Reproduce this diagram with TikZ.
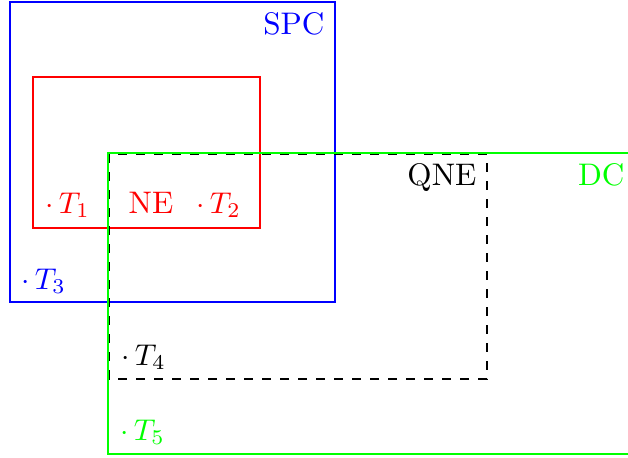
\documentclass[tikz,border=0pt]{standalone}
\usetikzlibrary{positioning}
\begin{document}
\begin{tikzpicture}[x=0.3333pt,y=-0.3333pt,
  every node/.style={font=\fontsize{10.4}{12.5}\selectfont},
  setbox/.style={line width=0.5pt},
  elem/.style={inner sep=0pt,anchor=base west},
  setname/.style={anchor=north east}]
% canvas, in pixels of the sketch
\clip (0,0) rectangle (628,457);
% the sets
\draw[setbox,blue] (10,2) rectangle (335,302);
\draw[setbox,red] (33,77) rectangle (260,228);
\draw[setbox,dashed] (109,154) rectangle (487,379);
\draw[setbox,green] (108,153) rectangle (635,454);
% set names
\node[setname,blue] (spc) at (335,2) {SPC};
\node[setname] (qne) at (487,153) {QNE};
\node[setname,green] (dc) at (635,153) {DC};
\node[elem,red] (ne) at (128,213) {NE};
% elements
\foreach \i/\px/\py/\col in {1/45/213/red, 2/196/213/red, 3/21/289/blue, 4/121/365/black, 5/120/440/green} {
  \node[elem,\col] (t\i) at (\px,\py) {$\cdot\,T_{\i}$};
}
\end{tikzpicture}
\end{document}
